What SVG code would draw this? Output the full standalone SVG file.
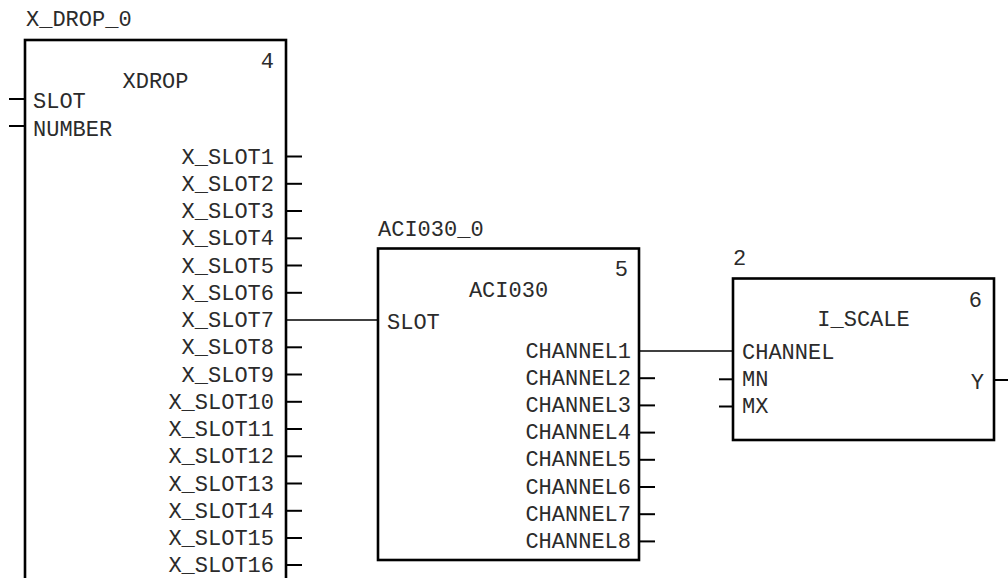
<svg xmlns="http://www.w3.org/2000/svg" width="1008" height="578" viewBox="0 0 1008 578">
<style>
text{font-family:"Liberation Mono","Courier New",monospace;font-size:22px;fill:#2b2b2b}
.e{text-anchor:end}
.m{text-anchor:middle}
.box{fill:#fff;stroke:#000;stroke-width:2.6}
.pin{stroke:#000;stroke-width:2}
.wire{stroke:#000;stroke-width:1.5;fill:none}
</style>
<rect width="1008" height="578" fill="#fff"/>
<g id="connectors">
<line class="wire" x1="286" y1="320" x2="378" y2="320"/>
<line class="wire" x1="639" y1="351" x2="733" y2="351"/>
</g>
<g id="xdrop">
<text x="26" y="26">X_DROP_0</text>
<rect class="box" x="25" y="40" width="261" height="560"/>
<text class="e" x="274" y="68">4</text>
<text class="m" x="155.5" y="88">XDROP</text>
<line class="pin" x1="9" y1="99" x2="25" y2="99"/>
<text x="33" y="108">SLOT</text>
<line class="pin" x1="9" y1="126" x2="25" y2="126"/>
<text x="33" y="136">NUMBER</text>
<line class="pin" x1="286" y1="156.5" x2="302" y2="156.5"/><text class="e" x="274" y="163.5">X_SLOT1</text>
<line class="pin" x1="286" y1="183.8" x2="302" y2="183.8"/><text class="e" x="274" y="190.8">X_SLOT2</text>
<line class="pin" x1="286" y1="211" x2="302" y2="211"/><text class="e" x="274" y="218">X_SLOT3</text>
<line class="pin" x1="286" y1="238.3" x2="302" y2="238.3"/><text class="e" x="274" y="245.3">X_SLOT4</text>
<line class="pin" x1="286" y1="265.5" x2="302" y2="265.5"/><text class="e" x="274" y="272.5">X_SLOT5</text>
<line class="pin" x1="286" y1="292.8" x2="302" y2="292.8"/><text class="e" x="274" y="299.8">X_SLOT6</text>
<text class="e" x="274" y="327">X_SLOT7</text>
<line class="pin" x1="286" y1="347.3" x2="302" y2="347.3"/><text class="e" x="274" y="354.3">X_SLOT8</text>
<line class="pin" x1="286" y1="374.5" x2="302" y2="374.5"/><text class="e" x="274" y="381.5">X_SLOT9</text>
<line class="pin" x1="286" y1="401.8" x2="302" y2="401.8"/><text class="e" x="274" y="408.8">X_SLOT10</text>
<line class="pin" x1="286" y1="429" x2="302" y2="429"/><text class="e" x="274" y="436">X_SLOT11</text>
<line class="pin" x1="286" y1="456.3" x2="302" y2="456.3"/><text class="e" x="274" y="463.3">X_SLOT12</text>
<line class="pin" x1="286" y1="483.5" x2="302" y2="483.5"/><text class="e" x="274" y="490.5">X_SLOT13</text>
<line class="pin" x1="286" y1="510.8" x2="302" y2="510.8"/><text class="e" x="274" y="517.8">X_SLOT14</text>
<line class="pin" x1="286" y1="538" x2="302" y2="538"/><text class="e" x="274" y="545">X_SLOT15</text>
<line class="pin" x1="286" y1="565" x2="302" y2="565"/><text class="e" x="274" y="572">X_SLOT16</text>
</g>
<g id="aci030">
<text x="378" y="236">ACI030_0</text>
<rect class="box" x="378" y="248.5" width="261" height="311.5"/>
<text class="e" x="628" y="276">5</text>
<text class="m" x="508.5" y="297">ACI030</text>
<text x="387" y="329">SLOT</text>
<text class="e" x="631" y="357.5">CHANNEL1</text>
<line class="pin" x1="639" y1="378.2" x2="655" y2="378.2"/><text class="e" x="631" y="384.7">CHANNEL2</text>
<line class="pin" x1="639" y1="405.4" x2="655" y2="405.4"/><text class="e" x="631" y="411.9">CHANNEL3</text>
<line class="pin" x1="639" y1="432.6" x2="655" y2="432.6"/><text class="e" x="631" y="439.1">CHANNEL4</text>
<line class="pin" x1="639" y1="459.8" x2="655" y2="459.8"/><text class="e" x="631" y="466.3">CHANNEL5</text>
<line class="pin" x1="639" y1="487" x2="655" y2="487"/><text class="e" x="631" y="493.5">CHANNEL6</text>
<line class="pin" x1="639" y1="514.2" x2="655" y2="514.2"/><text class="e" x="631" y="520.7">CHANNEL7</text>
<line class="pin" x1="639" y1="541.4" x2="655" y2="541.4"/><text class="e" x="631" y="547.9">CHANNEL8</text>
</g>
<g id="iscale">
<text x="733" y="265">2</text>
<rect class="box" x="733" y="278.5" width="261" height="161.5"/>
<text class="e" x="982" y="307">6</text>
<text class="m" x="863.5" y="326">I_SCALE</text>
<text x="742" y="358.5">CHANNEL</text>
<line class="pin" x1="719" y1="379.3" x2="733" y2="379.3"/>
<text x="742" y="386">MN</text>
<line class="pin" x1="719" y1="406.5" x2="733" y2="406.5"/>
<text x="742" y="413.3">MX</text>
<line class="pin" x1="994" y1="380" x2="1008" y2="380"/>
<text class="e" x="984" y="389">Y</text>
</g>
</svg>
